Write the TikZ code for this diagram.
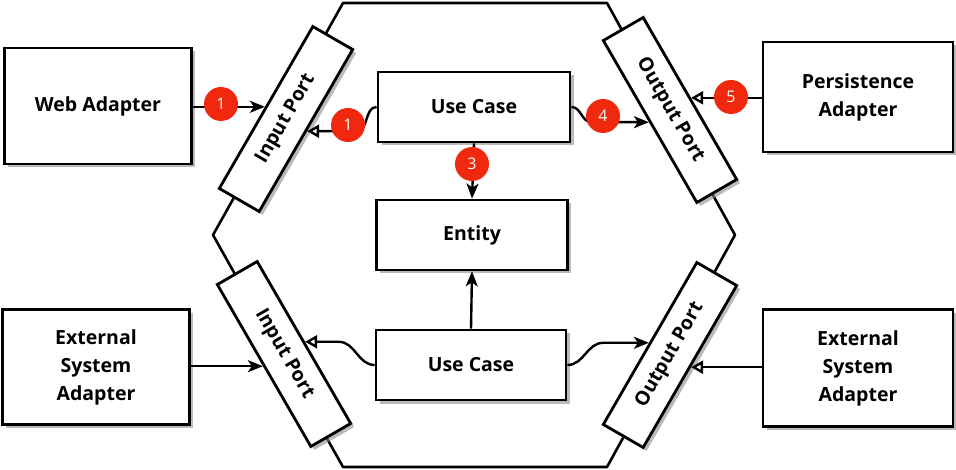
\documentclass[tikz,border=0pt]{standalone}
\usepackage{fontspec}
\setmainfont{Open Sans}
\usetikzlibrary{arrows.meta,shadows,calc}
\definecolor{badgered}{HTML}{F0290E}

\begin{document}
\begin{tikzpicture}[x=1pt,y=-1pt,
    font=\fontsize{19.5}{28}\selectfont\bfseries,
    block/.style={draw,line width=2.8pt,fill=white,align=center,inner sep=0pt,
      drop shadow={shadow xshift=3.5pt,shadow yshift=-3.5pt,fill=black!45,opacity=.6}},
    port/.style={block,minimum width=187pt,minimum height=46pt},
    badge/.style={circle,fill=badgered,text=white,minimum size=34pt,inner sep=0pt,
      font=\fontsize{16}{16}\selectfont},
    link/.style={line width=2.4pt,-{Stealth[length=15pt,width=12pt,inset=4pt]}},
    impl/.style={line width=2.4pt,-{Triangle[open,length=12pt,width=13pt,line width=2.4pt]}}]
\useasboundingbox (0,0) rectangle (956,470);

\draw[line width=2.6pt,line join=round]
    (343,3) -- (607,3) -- (735,235) -- (607,467) -- (343,467) -- (213,235) -- cycle;

\node[block,minimum width=187pt,minimum height=116pt] (web)  at (98,106)  {Web Adapter};
\node[block,minimum width=190pt,minimum height=110pt] (pers) at (858,97)  {Persistence\\Adapter};
\node[block,minimum width=187pt,minimum height=115pt] (extL) at (96,367)  {External\\System\\Adapter};
\node[block,minimum width=190pt,minimum height=117pt] (extR) at (858,368) {External\\System\\Adapter};

\node[block,minimum width=192pt,minimum height=70pt] (uc1) at (474,107) {Use Case};
\node[block,minimum width=191pt,minimum height=70pt] (ent) at (472,235) {Entity};
\node[block,minimum width=190pt,minimum height=70pt] (uc2) at (471,365) {Use Case};

\node[port,rotate=60]  (inT)  at (286,119) {Input Port};
\node[port,rotate=-60] (outT) at (670,110) {Output Port};
\node[port,rotate=-60] (inB)  at (284,354) {Input Port};
\node[port,rotate=60]  (outB) at (670,355) {Output Port};

\draw[link] (inT.north -| web.east) -- (inT.north);
\draw[impl] (uc1.west) to[out=180,in=0] ($(uc1.west |- inT.south)+(-20,0)$) -- (inT.south);
\draw[link] (uc1.south) -- (ent.north);
\draw[link] (uc1.east) to[out=0,in=180] ($(uc1.east |- outT.south)+(20,0)$) -- (outT.south);
\draw[impl] (outT.north -| pers.west) -- (outT.north);

\draw[link] (inB.south -| extL.east) -- (inB.south);
\draw[impl] (uc2.west) to[out=180,in=0] ($(uc2.west |- inB.north)+(-36,0)$) -- (inB.north);
\draw[link] (uc2.north) -- (ent.south);
\draw[link] (uc2.east) to[out=0,in=180] ($(uc2.east |- outB.north)+(36,0)$) -- (outB.north);
\draw[impl] (outB.south -| extR.west) -- (outB.south);

\node[badge] (n1a) at (221,104) {1};
\node[badge] (n1b) at (348,125) {1};
\node[badge] (n3)  at (472,164) {3};
\node[badge] (n4)  at (603,116) {4};
\node[badge] (n5)  at (731,97)  {5};
\end{tikzpicture}
\end{document}
